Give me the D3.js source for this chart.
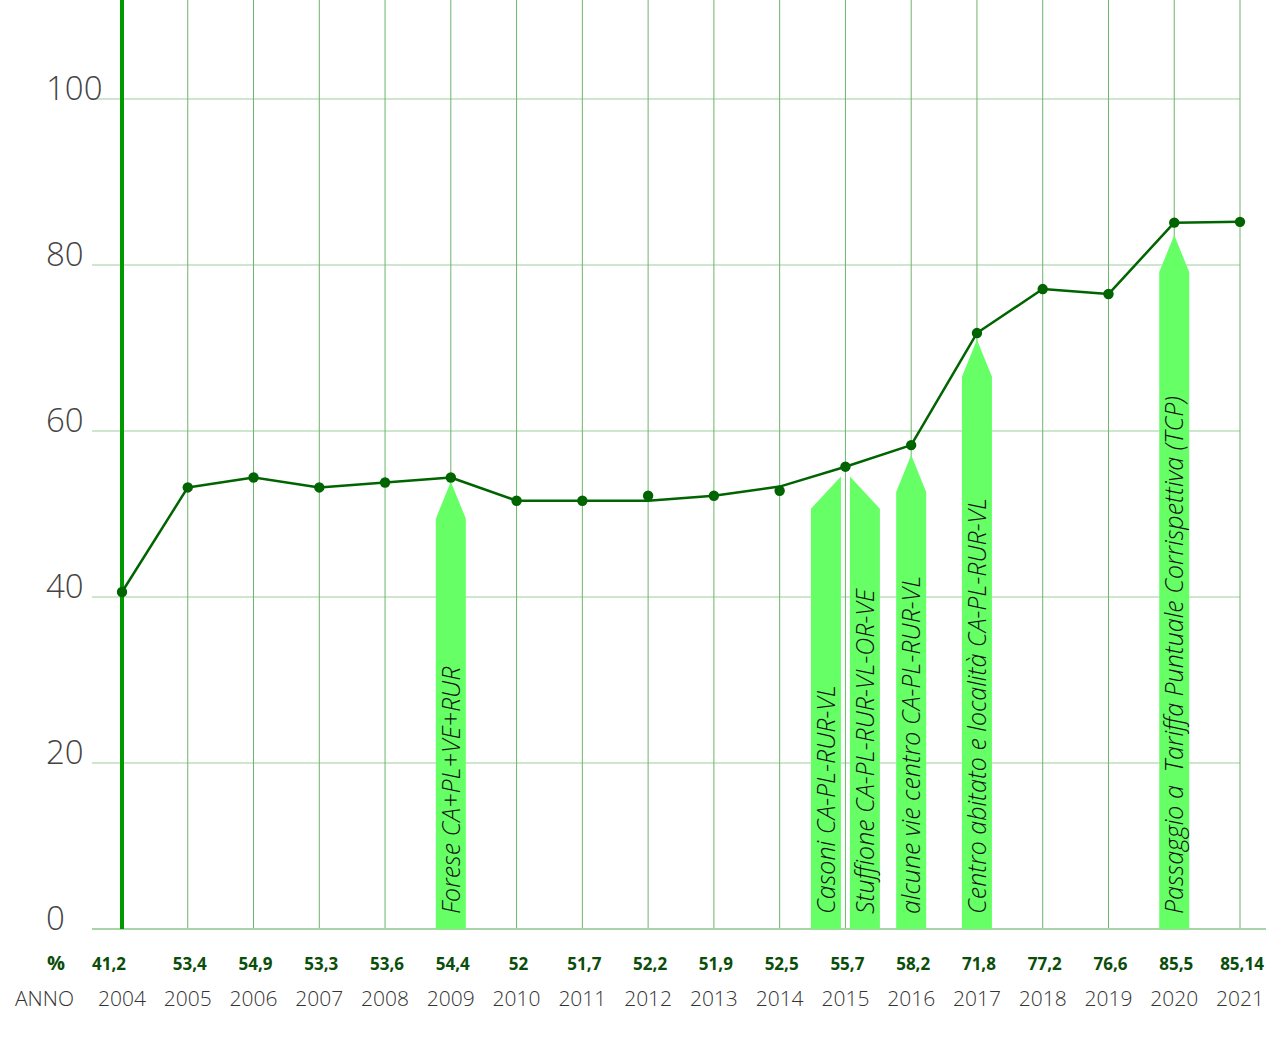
<!DOCTYPE html>
<html>
<head>
<meta charset="utf-8">
<script src="https://cdn.jsdelivr.net/npm/d3@7"></script>
<style>
  html, body { margin: 0; padding: 0; background: #fff; }
  svg { display: block; font-family: "Open Sans", "Noto Sans", sans-serif; }
</style>
</head>
<body>
<div id="chart"></div>
<script>
// years on the x axis
const years = ['2004', '2005', '2006', '2007', '2008', '2009', '2010', '2011', '2012',
  '2013', '2014', '2015', '2016', '2017', '2018', '2019', '2020', '2021'];

// percentages printed under the axis
const pctLabels = ['41,2', '53,4', '54,9', '53,3', '53,6', '54,4', '52', '51,7', '52,2',
  '51,9', '52,5', '55,7', '58,2', '71,8', '77,2', '76,6', '85,5', '85,14'];

// line as drawn in the picture
const lineValues = [40.6, 53.2, 54.4, 53.2, 53.8, 54.4, 51.6, 51.6, 51.6,
  52.2, 53.3, 55.7, 58.3, 71.8, 77.1, 76.5, 85.1, 85.2];

// dots as drawn (2012 and 2014 sit off the line)
const dotValues = [40.6, 53.2, 54.4, 53.2, 53.8, 54.4, 51.6, 51.6, 52.2,
  52.2, 52.8, 55.7, 58.3, 71.8, 77.1, 76.5, 85.1, 85.2];

const yTicks = [0, 20, 40, 60, 80, 100];

// annotation arrows: year, tip value, label, part (full / left half / right half)
const arrowYears = ['2009', '2015', '2015', '2016', '2017', '2020'];
const arrowTips = [53.9, 55.1, 55.1, 57.1, 71.0, 83.6];
const arrowLabels = [
  'Forese CA+PL+VE+RUR',
  'Casoni CA-PL-RUR-VL',
  'Stuffione CA-PL-RUR-VL-OR-VE',
  'alcune vie centro CA-PL-RUR-VL',
  'Centro abitato e località CA-PL-RUR-VL',
  'Passaggio a\u00a0\u00a0Tariffa Puntuale Corrispettiva (TCP)'
];
const arrowParts = ['full', 'left', 'right', 'full', 'full', 'full'];

const width = 1281, height = 1038;
const x0 = 122, x1 = 1240, yZero = 929, yHundred = 99;

const svg = d3.select('#chart').append('svg')
  .attr('width', width)
  .attr('height', height)
  .attr('viewBox', `0 0 ${width} ${height}`);

const x = d3.scalePoint().domain(years).range([x0, x1]);
const y = d3.scaleLinear().domain([0, 100]).range([yZero, yHundred]);

// horizontal grid
svg.append('g').selectAll('line')
  .data(yTicks.filter(d => d > 0))
  .join('line')
  .attr('x1', 92).attr('x2', x1)
  .attr('y1', d => y(d)).attr('y2', d => y(d))
  .attr('stroke', '#9ccd9c')
  .attr('stroke-width', 1.2);

// vertical grid
svg.append('g').selectAll('line')
  .data(years.slice(1))
  .join('line')
  .attr('x1', d => x(d)).attr('x2', d => x(d))
  .attr('y1', 0).attr('y2', yZero)
  .attr('stroke', '#6cb46c')
  .attr('stroke-width', 1);

// baseline
svg.append('line')
  .attr('x1', 92).attr('x2', 1266)
  .attr('y1', yZero).attr('y2', yZero)
  .attr('stroke', '#a8d4a8')
  .attr('stroke-width', 2);

// y tick labels
svg.append('g').selectAll('text')
  .data(yTicks)
  .join('text')
  .attr('x', 46)
  .attr('y', d => y(d) + 1)
  .attr('fill', '#444')
  .style('font-size', '33px')
  .style('font-weight', 300)
  .text(d => d);

// annotation arrows
const arrowW = 30, shoulder = 37, gap = 4.5;
const arrows = svg.append('g');
arrowYears.forEach((yr, i) => {
  const cx = x(yr);
  const tip = y(arrowTips[i]);
  const part = arrowParts[i];
  let pts, tx;
  if (part === 'full') {
    const l = cx - arrowW / 2, r = cx + arrowW / 2;
    pts = [[l, yZero], [l, tip + shoulder], [cx, tip], [r, tip + shoulder], [r, yZero]];
    tx = cx;
  } else {
    // split arrow: each half keeps its slanted side
    const full = arrowW + gap;
    const slope = shoulder / full;
    if (part === 'left') {
      const l = cx - full, r = cx - gap;
      pts = [[l, yZero], [l, tip + shoulder], [r, tip + slope * gap], [r, yZero]];
      tx = (l + r) / 2;
    } else {
      const l = cx + gap, r = cx + full;
      pts = [[l, yZero], [l, tip + slope * gap], [r, tip + shoulder], [r, yZero]];
      tx = (l + r) / 2;
    }
  }
  arrows.append('polygon')
    .attr('points', pts.map(p => p.join(',')).join(' '))
    .attr('fill', '#66ff66');

  arrows.append('text')
    .attr('transform', `translate(${tx}, ${yZero - 15}) rotate(-90)`)
    .attr('dy', '0.36em')
    .attr('fill', '#111')
    .style('font-size', '25px')
    .style('font-weight', 300)
    .style('font-style', 'italic')
    .text(arrowLabels[i]);
});

// thick 2004 axis line
svg.append('line')
  .attr('x1', x('2004')).attr('x2', x('2004'))
  .attr('y1', 0).attr('y2', yZero)
  .attr('stroke', '#009900')
  .attr('stroke-width', 4);

// series line
const line = d3.line()
  .x((d, i) => x(years[i]))
  .y(d => y(d));

svg.append('path')
  .datum(lineValues)
  .attr('d', line)
  .attr('fill', 'none')
  .attr('stroke', '#006400')
  .attr('stroke-width', 2.5)
  .attr('stroke-linejoin', 'round');

svg.append('g').selectAll('circle')
  .data(dotValues)
  .join('circle')
  .attr('cx', (d, i) => x(years[i]))
  .attr('cy', d => y(d))
  .attr('r', 5.2)
  .attr('fill', '#006400');

// bottom rows
svg.append('text')
  .attr('x', 56).attr('y', 970)
  .attr('text-anchor', 'middle')
  .attr('fill', '#0b4d0b')
  .style('font-size', '20px')
  .style('font-weight', 700)
  .text('%');

svg.append('g').selectAll('text')
  .data(pctLabels)
  .join('text')
  .attr('x', (d, i) => x(years[i]) + (i === 0 ? -13 : 2))
  .attr('y', 970)
  .attr('text-anchor', 'middle')
  .attr('fill', '#0b4d0b')
  .style('font-size', '17px')
  .style('font-weight', 700)
  .text(d => d);

svg.append('text')
  .attr('x', 15).attr('y', 1006)
  .attr('fill', '#333')
  .style('font-size', '21px')
  .style('font-weight', 300)
  .text('ANNO');

svg.append('g').selectAll('text')
  .data(years)
  .join('text')
  .attr('x', d => x(d))
  .attr('y', 1006)
  .attr('text-anchor', 'middle')
  .attr('fill', '#333')
  .style('font-size', '21px')
  .style('font-weight', 300)
  .text(d => d);
</script>
</body>
</html>
